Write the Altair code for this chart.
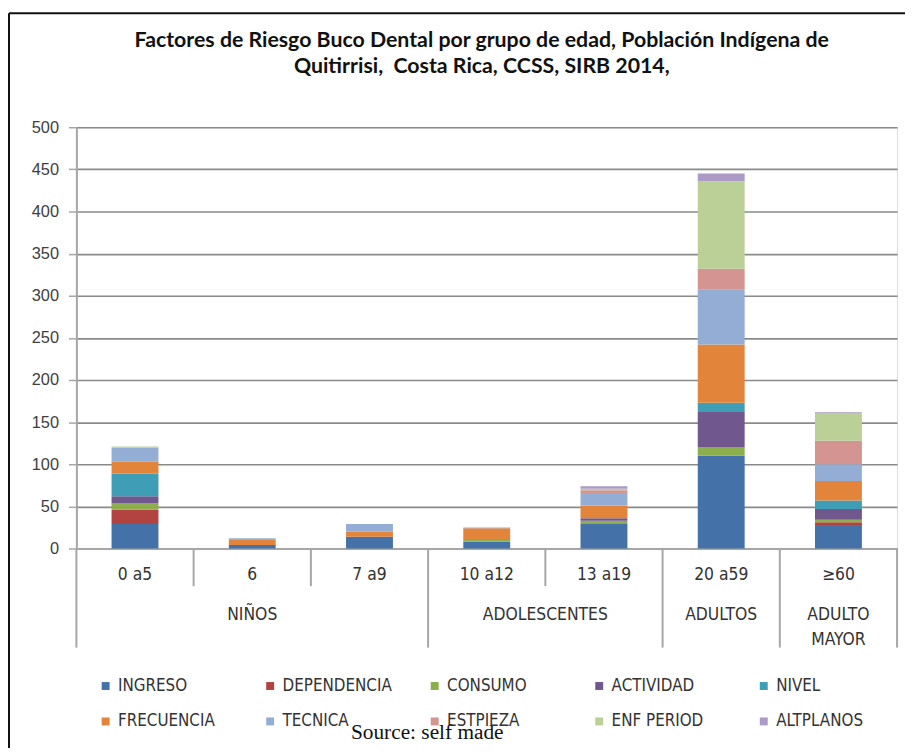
import altair as alt
import pandas as pd

cats = ["0 a5", "6", "7 a9", "10 a12", "13 a19", "20 a59", "≥60"]
series = ["INGRESO", "DEPENDENCIA", "CONSUMO", "ACTIVIDAD", "NIVEL",
          "FRECUENCIA", "TECNICA", "ESTPIEZA", "ENF PERIOD", "ALTPLANOS"]
colors = ["#4472A8", "#B24341", "#8CAE4C", "#70588F", "#3F9DB6",
          "#E2843A", "#93ADD5", "#D49492", "#BAD097", "#AB9BC6"]

INGRESO = [29, 4, 14, 8, 29, 110, 28]
DEPENDENCIA = [17, 0, 0, 0, 0, 0, 3]
CONSUMO = [8, 0, 0, 2, 4, 10, 3]
ACTIVIDAD = [8, 0, 0, 0, 3, 42, 13]
NIVEL = [27, 0, 0, 0, 0, 11, 10]
FRECUENCIA = [14, 7, 6, 14, 15, 69, 23]
TECNICA = [17, 1, 9, 1, 15, 65, 20]
ESTPIEZA = [0, 0, 0, 0, 3, 25, 28]
ENF_PERIOD = [1, 0, 0, 0, 2, 104, 33]
ALTPLANOS = [0, 0, 0, 0, 3, 9, 1]

values = [INGRESO, DEPENDENCIA, CONSUMO, ACTIVIDAD, NIVEL,
          FRECUENCIA, TECNICA, ESTPIEZA, ENF_PERIOD, ALTPLANOS]

group_mid = ["NIÑOS", "ADULTOS", "ADULTO\nMAYOR"]
group_mid_cat = ["6", "20 a59", "≥60"]
group_edge = ["ADOLESCENTES"]
group_edge_cat = ["10 a12"]
long_div_cats = ["0 a5", "10 a12", "20 a59", "≥60"]
short_div_cats = ["6", "7 a9", "13 a19"]

title_lines = ["Factores de Riesgo Buco Dental por grupo de edad, Población Indígena de",
               "Quitirrisi,\u00a0 Costa Rica, CCSS, SIRB 2014,"]
source_text = "Source: self made"

rows = []
for i, (s, vals) in enumerate(zip(series, values)):
    for c, v in zip(cats, vals):
        rows.append({"cat": c, "serie": s, "valor": v, "idx": i})
df = pd.DataFrame(rows)

W, H = 828, 425
NARROW = "DejaVu Sans Condensed, Liberation Sans Narrow, Arial Narrow, sans-serif"

xscale = alt.Scale(domain=cats, paddingInner=0, paddingOuter=0)

bars = alt.Chart(df).mark_bar(width=alt.RelativeBandSize(0.4)).encode(
    x=alt.X("cat:N", scale=xscale, sort=cats,
            axis=alt.Axis(title=None, labelAngle=0, ticks=False, labelFontSize=17.5,
                          labelFont=NARROW, labelColor="#333333", labelPadding=17,
                          domainColor="#a6a6a6", domainWidth=2, grid=False)),
    y=alt.Y("valor:Q", stack="zero",
            scale=alt.Scale(domain=[0, 500], nice=False),
            axis=alt.Axis(title=None, values=list(range(0, 501, 50)), labelFontSize=16.5,
                          labelFont="Liberation Sans", labelColor="#404040",
                          labelPadding=10, tickSize=8, tickColor="#a6a6a6",
                          tickWidth=1.5, domainColor="#a6a6a6", domainWidth=2,
                          gridColor="#8a8a8a", gridWidth=1.6)),
    color=alt.Color("serie:N", scale=alt.Scale(domain=series, range=colors),
                    legend=alt.Legend(title=None, orient="none", legendX=21, legendY=555,
                                      columns=5, direction="horizontal",
                                      symbolType="square", symbolSize=64,
                                      symbolStrokeWidth=0, labelFontSize=17,
                                      labelFont=NARROW, labelColor="#333333",
                                      rowPadding=18, columnPadding=34,
                                      gridAlign="all", labelLimit=250)),
    order=alt.Order("idx:Q", sort="ascending"),
)

div_long = pd.DataFrame({"cat": long_div_cats})
div_short = pd.DataFrame({"cat": short_div_cats})
div_end = pd.DataFrame({"cat": ["≥60"]})

rule_style = dict(color="#a6a6a6", strokeWidth=2)
long_rules = alt.Chart(div_long).mark_rule(**rule_style).encode(
    x=alt.X("cat:N", scale=xscale, bandPosition=0), y=alt.value(H), y2=alt.value(H + 100))
end_rule = alt.Chart(div_end).mark_rule(**rule_style).encode(
    x=alt.X("cat:N", scale=xscale, bandPosition=1), y=alt.value(H), y2=alt.value(H + 100))
short_rules = alt.Chart(div_short).mark_rule(**rule_style).encode(
    x=alt.X("cat:N", scale=xscale, bandPosition=0), y=alt.value(H), y2=alt.value(H + 38))

gmid = pd.DataFrame({"cat": group_mid_cat, "label": group_mid})
gedge = pd.DataFrame({"cat": group_edge_cat, "label": group_edge})
text_style = dict(font=NARROW, fontSize=17.5, color="#333333", baseline="top",
                  align="center", lineBreak="\n", lineHeight=25)
glabels_mid = alt.Chart(gmid).mark_text(**text_style).encode(
    x=alt.X("cat:N", scale=xscale, bandPosition=0.5), y=alt.value(H + 58), text="label:N")
glabels_edge = alt.Chart(gedge).mark_text(**text_style).encode(
    x=alt.X("cat:N", scale=xscale, bandPosition=1), y=alt.value(H + 58), text="label:N")

one = pd.DataFrame({"k": [0]})
frame_top = alt.Chart(one).mark_rule(color="#111111", strokeWidth=2).encode(
    x=alt.value(-68), x2=alt.value(W + 40), y=alt.value(-115))
frame_left = alt.Chart(one).mark_rule(color="#111111", strokeWidth=2).encode(
    x=alt.value(-68), y=alt.value(-115), y2=alt.value(H + 260))

tdf = pd.DataFrame({"t": title_lines, "line": [0, 1]})
title1 = alt.Chart(tdf.iloc[[0]]).mark_text(
    font="Lato", fontSize=21.5, fontWeight="bold", color="#111111",
    align="center", baseline="middle").encode(
    x=alt.value(409), y=alt.value(-87), text="t:N")
title2 = alt.Chart(tdf.iloc[[1]]).mark_text(
    font="Lato", fontSize=21.5, fontWeight="bold", color="#111111",
    align="center", baseline="middle").encode(
    x=alt.value(409), y=alt.value(-61), text="t:N")

source = alt.Chart(pd.DataFrame({"t": [source_text]})).mark_text(
    font="Liberation Serif, DejaVu Serif, serif", fontSize=21.5, color="#111111",
    align="center", baseline="middle").encode(
    x=alt.value(354), y=alt.value(611), text="t:N")

chart = alt.layer(bars, long_rules, end_rule, short_rules, glabels_mid, glabels_edge,
                  frame_top, frame_left, title1, title2, source).properties(
    width=W, height=H,
    autosize=alt.AutoSizeParams(type="none"),
    padding={"left": 69, "top": 117, "right": 8, "bottom": 198},
).configure_view(stroke=None).configure(background="white")

chart.save("out.html", embed_options={"renderer": "svg", "actions": False})
